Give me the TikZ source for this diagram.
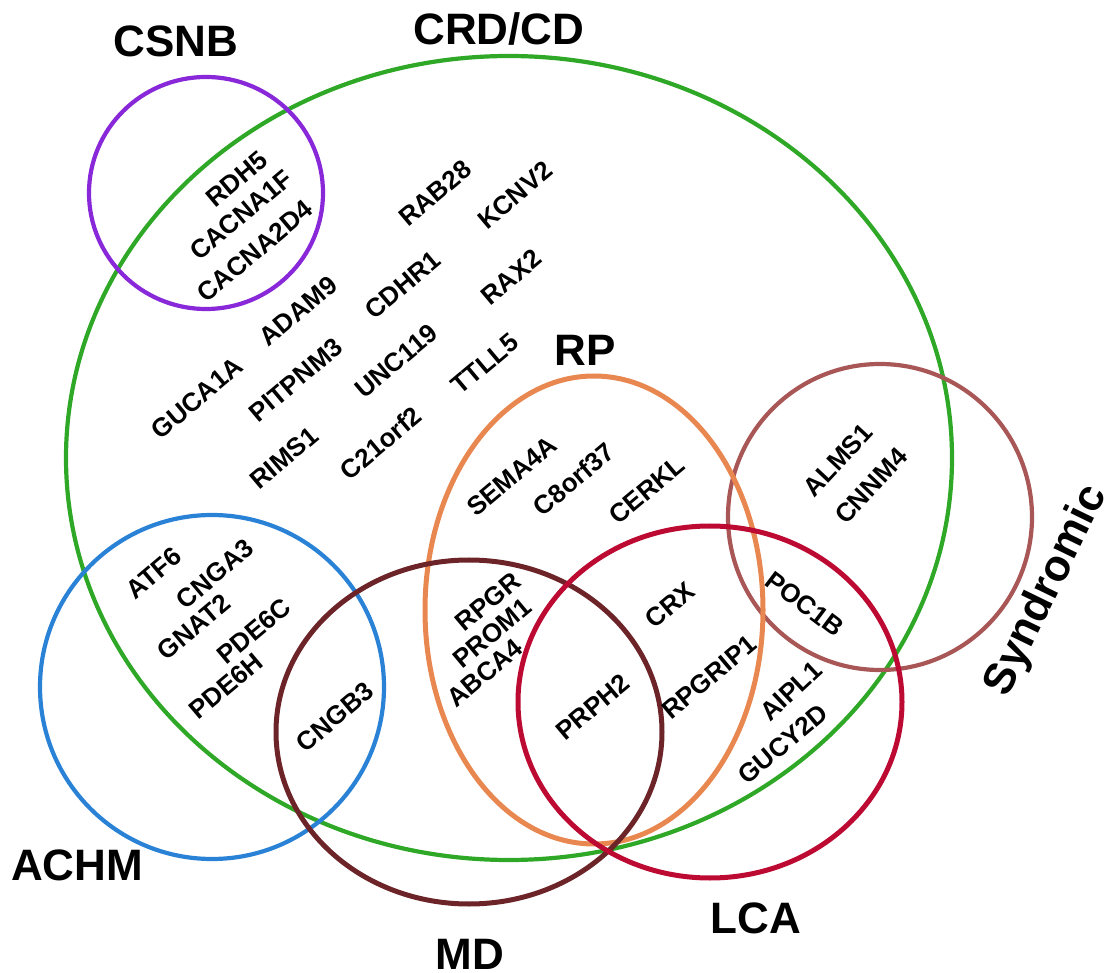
\documentclass[tikz,border=0pt]{standalone}
\usepackage{fontspec}
\setmainfont{Liberation Sans}
\definecolor{cgreen}{RGB}{46,168,38}
\definecolor{cpurple}{RGB}{136,40,216}
\definecolor{corange}{RGB}{232,135,80}
\definecolor{cblue}{RGB}{42,130,214}
\definecolor{cmd}{RGB}{108,36,40}
\definecolor{clca}{RGB}{188,10,50}
\definecolor{csyn}{RGB}{168,86,86}
\tikzset{
  setline/.style={line width=4.2pt},
  gene/.style={font=\fontsize{26}{28}\selectfont\bfseries, inner sep=0pt, rotate=40},
  setlabel/.style={font=\fontsize{44}{46}\selectfont\bfseries, inner sep=0pt},
}
\begin{document}
\begin{tikzpicture}[x=1pt,y=-1pt]
\useasboundingbox (0,0) rectangle (1112,973);
% sets
\draw[setline, cgreen] (509,458) ellipse [x radius=443, y radius=402];
\draw[setline, cpurple] (206,193) ellipse [x radius=117, y radius=116];
\draw[setline, cblue] (212,687) ellipse [x radius=172, y radius=172];
\draw[setline, csyn] (880,517) ellipse [x radius=152, y radius=153];
\draw[setline, line width=5pt, corange] (594,610) ellipse [x radius=169, y radius=234];
\draw[setline, line width=5pt, cmd] (469,732) ellipse [x radius=193, y radius=172];
\draw[setline, line width=5pt, clca] (710,702) ellipse [x radius=192, y radius=176];
% set labels
\node[setlabel] (lcsnb) at (176,41) {CSNB};
\node[setlabel] (lcrd) at (499,29) {CRD/CD};
\node[setlabel] (lrp) at (585,350) {RP};
\node[setlabel] (lachm) at (77,865) {ACHM};
\node[setlabel] (lmd) at (470,954) {MD};
\node[setlabel] (llca) at (756,918) {LCA};
\node[setlabel, rotate=64] (lsyn) at (1047,591) {Syndromic};
% genes
\node[gene] (g1) at (237,179) {RDH5};
\node[gene] (g2) at (241,215) {CACNA1F};
\node[gene] (g3) at (255,251) {CACNA2D4};
\node[gene] (g4) at (435,193) {RAB28};
\node[gene] (g5) at (515,195) {KCNV2};
\node[gene] (g6) at (403,285) {CDHR1};
\node[gene] (g7) at (511,277) {RAX2};
\node[gene] (g8) at (298,311) {ADAM9};
\node[gene] (g9) at (197,398) {GUCA1A};
\node[gene] (g10) at (296,380) {PITPNM3};
\node[gene] (g11) at (396,361) {UNC119};
\node[gene] (g12) at (485,364) {TTLL5};
\node[gene] (g13) at (284,458) {RIMS1};
\node[gene] (g14) at (381,443) {C21orf2};
\node[gene] (g15) at (512,476) {SEMA4A};
\node[gene] (g16) at (574,479) {C8orf37};
\node[gene] (g17) at (647,490) {CERKL};
\node[gene, rotate=7] (g18) at (838,460) {ALMS1};
\node[gene, rotate=7] (g19) at (871,486) {CNNM4};
\node[gene] (g20) at (154,573) {ATF6};
\node[gene] (g21) at (215,574) {CNGA3};
\node[gene] (g22) at (194,627) {GNAT2};
\node[gene] (g23) at (254,631) {PDE6C};
\node[gene] (g24) at (226,686) {PDE6H};
\node[gene] (g25) at (335,717) {CNGB3};
\node[gene] (g26) at (488,602) {RPGR};
\node[gene] (g27) at (492,633) {PROM1};
\node[gene] (g28) at (485,673) {ABCA4};
\node[gene] (g29) at (670,605) {CRX};
\node[gene] (g30) at (593,707) {PRPH2};
\node[gene] (g31) at (709,677) {RPGRIP1};
\node[gene, rotate=-77] (g32) at (805,604) {POC1B};
\node[gene, rotate=3] (g33) at (791,691) {AIPL1};
\node[gene] (g34) at (783,744) {GUCY2D};
\end{tikzpicture}
\end{document}
